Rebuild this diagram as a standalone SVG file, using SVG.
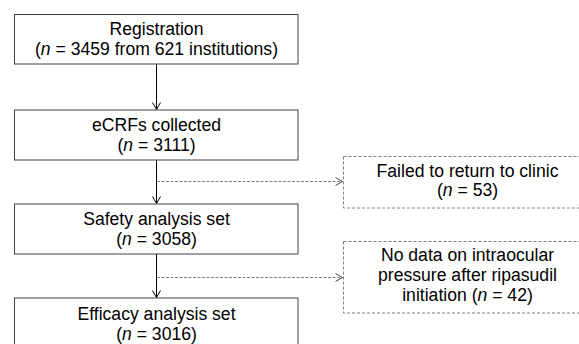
<svg xmlns="http://www.w3.org/2000/svg" width="579" height="344" viewBox="0 0 579 344">
<style>
text{font-family:"Liberation Sans",Arial,sans-serif;font-size:17.6px;fill:#000;text-anchor:middle}
.box{fill:#fff;stroke:#404040;stroke-width:1}
.dbox{fill:#fff;stroke:#7f7f7f;stroke-width:1;stroke-dasharray:3,2}
.arr{stroke:#000;stroke-width:1;fill:none}
.darr{stroke:#7f7f7f;stroke-width:1;fill:none;stroke-dasharray:3,1.5}
</style>
<defs>
<marker id="ah" markerWidth="10" markerHeight="10" refX="8" refY="5" orient="auto" markerUnits="userSpaceOnUse">
<path d="M1,1 L8,5 L1,9" fill="none" stroke="#000" stroke-width="1"/>
</marker>
<marker id="dah" markerWidth="10" markerHeight="10" refX="8" refY="5" orient="auto" markerUnits="userSpaceOnUse">
<path d="M1,1 L8,5 L1,9" fill="none" stroke="#404040" stroke-width="1"/>
</marker>
</defs>
<g id="connectors">
<line class="arr" x1="156.5" y1="64" x2="156.5" y2="109.5" marker-end="url(#ah)"/>
<line class="arr" x1="156.5" y1="160" x2="156.5" y2="203.5" marker-end="url(#ah)"/>
<line class="arr" x1="156.5" y1="254" x2="156.5" y2="297.5" marker-end="url(#ah)"/>
<line class="darr" x1="157" y1="181.5" x2="342.5" y2="181.5" marker-end="url(#dah)"/>
<line class="darr" x1="157" y1="277.5" x2="342.5" y2="277.5" marker-end="url(#dah)"/>
</g>
<g id="registration">
<rect class="box" x="14.5" y="14.5" width="283.5" height="49.5"/>
<text x="156.5" y="35">Registration</text>
<text x="156.5" y="55">(<tspan font-style="italic">n</tspan> = 3459 from 621 institutions)</text>
</g>
<g id="ecrfs">
<rect class="box" x="14.5" y="110" width="283.5" height="50"/>
<text x="156.5" y="130.5">eCRFs collected</text>
<text x="156.5" y="150.5">(<tspan font-style="italic">n</tspan> = 3111)</text>
</g>
<g id="safety">
<rect class="box" x="14.5" y="204" width="283.5" height="50"/>
<text x="156.5" y="225">Safety analysis set</text>
<text x="156.5" y="245">(<tspan font-style="italic">n</tspan> = 3058)</text>
</g>
<g id="efficacy">
<rect class="box" x="14.5" y="298" width="283.5" height="60"/>
<text x="156.5" y="320">Efficacy analysis set</text>
<text x="156.5" y="340">(<tspan font-style="italic">n</tspan> = 3016)</text>
</g>
<g id="failed">
<rect class="dbox" x="343.5" y="156.5" width="250" height="51.5"/>
<text x="467.5" y="176.5">Failed to return to clinic</text>
<text x="467.5" y="196">(<tspan font-style="italic">n</tspan> = 53)</text>
</g>
<g id="nodata">
<rect class="dbox" x="343.5" y="241.5" width="250" height="71.5"/>
<text x="467.5" y="261">No data on intraocular</text>
<text x="467.5" y="281">pressure after ripasudil</text>
<text x="467.5" y="301">initiation (<tspan font-style="italic">n</tspan> = 42)</text>
</g>
</svg>
